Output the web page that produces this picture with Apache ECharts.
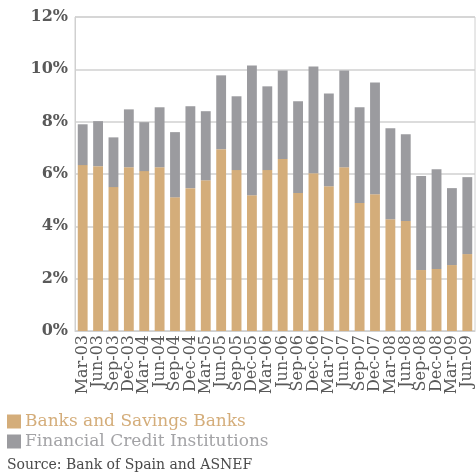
<!DOCTYPE html>
<html>
<head>
<meta charset="utf-8">
<script src="https://cdn.jsdelivr.net/npm/echarts@6/dist/echarts.min.js"></script>
<style>
  html, body { margin: 0; padding: 0; background: #fff; }
  #main { width: 476px; height: 474px; }
</style>
</head>
<body>
<div id="main"></div>
<script>
// quarters
const quarters = ['Mar-03','Jun-03','Sep-03','Dec-03','Mar-04','Jun-04','Sep-04','Dec-04',
  'Mar-05','Jun-05','Sep-05','Dec-05','Mar-06','Jun-06','Sep-06','Dec-06',
  'Mar-07','Jun-07','Sep-07','Dec-07','Mar-08','Jun-08','Sep-08','Dec-08','Mar-09','Jun-09'];
// banks and savings banks (%)
const banks = [6.34, 6.30, 5.50, 6.26, 6.11, 6.26, 5.11, 5.46, 5.76, 6.95, 6.15, 5.19, 6.15,
  6.57, 5.27, 6.03, 5.53, 6.26, 4.89, 5.23, 4.27, 4.20, 2.33, 2.37, 2.52, 2.94];
// financial credit institutions (%), stacked on top
const fci = [1.56, 1.72, 1.90, 2.21, 1.87, 2.29, 2.49, 3.13, 2.64, 2.82, 2.82, 4.96, 3.20,
  3.39, 3.51, 4.08, 3.55, 3.70, 3.66, 4.27, 3.48, 3.32, 3.59, 3.81, 2.94, 2.94];
const yTicks = [0, 2, 4, 6, 8, 10, 12];

const font = 'DejaVu Serif';
const orange = '#d4ad7a';
const grey = '#9b9b9f';

const myChart = echarts.init(document.getElementById('main'));
myChart.setOption({
  animation: false,
  backgroundColor: '#fff',
  textStyle: { fontFamily: font },
  grid: {
    left: 75, right: 1, top: 17, bottom: 143,
    show: true, borderColor: '#d0d0d0', borderWidth: 1
  },
  legend: {
    orient: 'vertical',
    left: 2, top: 408,
    itemWidth: 14, itemHeight: 14, itemGap: 3,
    icon: 'rect',
    data: [
      { name: 'Banks and Savings Banks', textStyle: { color: orange } },
      { name: 'Financial Credit Institutions', textStyle: { color: '#a3a3a6' } }
    ],
    textStyle: { fontFamily: font, fontSize: 17, padding: [0, 0, 0, -1] }
  },
  graphic: [{
    type: 'text', left: 7, top: 458,
    style: { text: 'Source: Bank of Spain and ASNEF', fill: '#4a4a4a', font: '14px "DejaVu Serif"' }
  }],
  xAxis: {
    type: 'category',
    data: quarters,
    axisTick: { show: false },
    axisLine: { lineStyle: { color: '#d0d0d0' } },
    axisLabel: {
      interval: 0, rotate: 90, color: '#595959',
      fontFamily: font, fontSize: 16, margin: 4
    }
  },
  yAxis: {
    type: 'value',
    min: 0, max: 12, interval: 2,
    axisLine: { show: true, lineStyle: { color: '#d0d0d0' } },
    splitLine: { lineStyle: { color: '#d0d0d0', width: 1.5 } },
    axisLabel: {
      color: '#595959', fontFamily: font, fontSize: 16, fontWeight: 'bold', margin: 7,
      formatter: v => yTicks.includes(v) ? v + '%' : ''
    }
  },
  series: [
    { name: 'Banks and Savings Banks', type: 'bar', stack: 'total', data: banks,
      barWidth: '64%', itemStyle: { color: orange } },
    { name: 'Financial Credit Institutions', type: 'bar', stack: 'total', data: fci,
      barWidth: '64%', itemStyle: { color: grey } }
  ]
});
</script>
</body>
</html>
